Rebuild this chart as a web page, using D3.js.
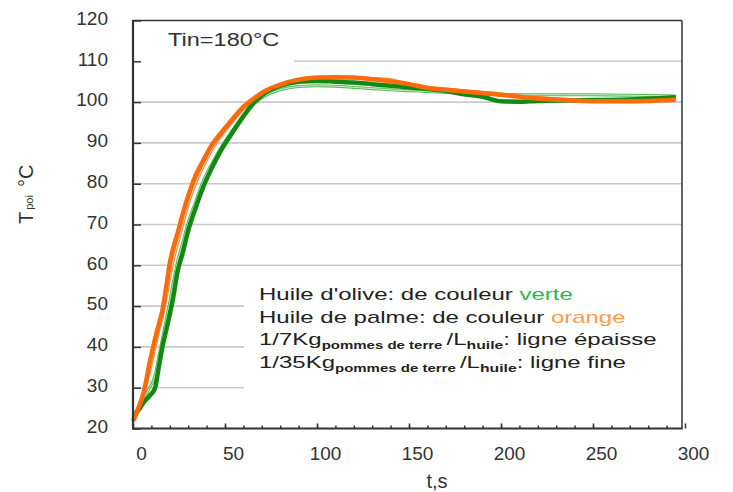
<!DOCTYPE html>
<html><head><meta charset="utf-8">
<script src="https://cdn.jsdelivr.net/npm/d3@7"></script>
<style>body{margin:0;background:#fff}svg{display:block}</style>
</head><body>
<svg id="c" width="733" height="492"></svg>
<script>
// ---- data (time in s, temperature in °C) ----
const timeS = [0,3,6,9,12,14,16,18,20,22,24,27,30,34,38,43,48,54,60,66,72,80,90,100,110,120,130,140,150,160,170,180,190,200,210,220,235,250,265,280,295];
const oliveThick = [23.3,24.5,26.5,28,30,35,40,44,48,52.5,58,63,68.5,74,79,84,88.3,92.5,96.5,100,102.3,104,105,105.2,105,104.8,104.4,104,103.6,103.2,102.7,101.9,101.3,100.2,100.1,100.3,100.4,100.5,100.6,100.8,101.2];
const oliveThin  = [23,25,27.5,30,33,37.5,42,46.5,51,56,60.5,65.5,70.5,75.5,80.5,85,89,93,96.8,99.7,101.6,103,103.8,104,103.9,103.6,103.3,103,102.8,102.6,102.4,102.2,102,101.9,101.8,101.8,101.8,101.8,101.7,101.6,101.5];
const palmThick  = [21.8,25,29.2,36,42,45.5,49,54.5,60.5,64.5,67.5,72.5,77,82,85.5,89.6,92.5,95.8,98.8,101,102.8,104.3,105.5,106,106.1,106,105.6,105.1,104.4,103.5,103,102.6,102.2,101.8,101.3,100.9,100.5,100.2,100.2,100.3,100.6];
const palmThin   = [22.5,25.5,29,34,40,44,47.5,52,57,61.5,65,70,75,80,84,88.5,91.8,95.2,98.3,100.7,102.6,104.2,105.3,105.8,105.9,105.9,105.8,105.5,104.3,103.6,103.2,102.8,102.4,102,101.5,101.1,100.7,100.5,100.5,100.6,100.8];
const xTicksMajor = [0,50,100,150,200,250,300];
const xTicksMinor = d3.range(10,300,10);
const yTicks = [20,30,40,50,60,70,80,90,100,110,120];
const gridValues = [30,40,50,60,70,80,90,100,110];
const titleText = "Tin=180°C";
const xLabel = "t,s";

// ---- layout ----
const svg = d3.select("#c");
const L = 133, R = 682, T = 20.5, B = 428.5;
const x = d3.scaleLinear().domain([0,300]).range([L, 685]);
const y = d3.scaleLinear().domain([20,120]).range([B, T]);
const FONT = "'Liberation Sans', Arial, sans-serif";

svg.append("rect").attr("width",733).attr("height",492).attr("fill","#fff");

// grid
svg.append("g").selectAll("line").data(gridValues).join("line")
  .attr("x1",L).attr("x2",R).attr("y1",d=>y(d)).attr("y2",d=>y(d))
  .attr("stroke","#c9c9c9").attr("stroke-width",1.6);

// boxes hiding grid (title + legend backgrounds)
svg.append("rect").attr("x",L+1).attr("y",T+1).attr("width",160).attr("height",48).attr("fill","#fff");
svg.append("rect").attr("x",244).attr("y",272).attr("width",R-244-1).attr("height",128).attr("fill","#fff");

// series
const line = d3.line().x((d,i)=>x(timeS[i])).y(d=>y(d)).curve(d3.curveMonotoneX);
function thin(vals, col, core){
  svg.append("path").datum(vals).attr("d",line).attr("fill","none")
    .attr("stroke",col).attr("stroke-width",3).attr("stroke-linejoin","round");
  svg.append("path").datum(vals).attr("d",line).attr("fill","none")
    .attr("stroke",core).attr("stroke-width",0.9).attr("stroke-linejoin","round");
}
function thick(vals, col){
  svg.append("path").datum(vals).attr("d",line).attr("fill","none")
    .attr("stroke",col).attr("stroke-width",4.5).attr("stroke-linejoin","round");
}
thin(oliveThin, "#5cb85c", "#d8f0d8");
thin(palmThin, "#ff8a3a", "#ffe0c8");
thick(oliveThick, "#128a12");
thick(palmThick, "#ff6a0a");

// frame
svg.append("line").attr("x1",L).attr("x2",R).attr("y1",T).attr("y2",T).attr("stroke","#333").attr("stroke-width",1.5);
svg.append("line").attr("x1",R).attr("x2",R).attr("y1",T).attr("y2",B).attr("stroke","#333").attr("stroke-width",1.5);

// axes
const gx = svg.append("g").attr("transform",`translate(0,${B})`);
gx.call(d3.axisBottom(x).tickValues(xTicksMinor).tickSize(-3).tickFormat(""));
const gx2 = svg.append("g").attr("transform",`translate(0,${B})`);
gx2.call(d3.axisBottom(x).tickValues(xTicksMajor).tickSize(-5).tickPadding(18).tickFormat(d3.format("d")));
[gx,gx2].forEach(g=>{g.select(".domain").remove(); g.selectAll("line").attr("stroke","#333").attr("stroke-width",1.5);});
gx2.selectAll("text").attr("font-family",FONT).attr("font-size",19).attr("fill","#333").attr("dx",8);

const gy = svg.append("g").attr("transform",`translate(${L},0)`);
gy.call(d3.axisLeft(y).tickValues(yTicks).tickSize(-8).tickPadding(25).tickFormat(d3.format("d")));
gy.select(".domain").remove();
gy.selectAll("line").attr("stroke","#333").attr("stroke-width",1.5);
gy.selectAll("text").attr("font-family",FONT).attr("font-size",19).attr("fill","#333").attr("dy","0.2em");

svg.append("line").attr("x1",L).attr("x2",L).attr("y1",T-0.5).attr("y2",B+1).attr("stroke","#333").attr("stroke-width",2.2);
svg.append("line").attr("x1",L-1).attr("x2",R+0.7).attr("y1",B).attr("y2",B).attr("stroke","#333").attr("stroke-width",2.2);

// title inside plot
svg.append("text").attr("transform","translate(168,46) scale(1.24,1)")
  .attr("font-family",FONT).attr("font-size",19).attr("fill","#333").text(titleText);

// axis labels
svg.append("text").attr("x",437).attr("y",488).attr("text-anchor","middle")
  .attr("font-family",FONT).attr("font-size",20).attr("fill","#333").text(xLabel);
const yl = svg.append("text").attr("transform","translate(33,224) rotate(-90)")
  .attr("font-family",FONT).attr("font-size",20).attr("fill","#333");
yl.append("tspan").text("T");
yl.append("tspan").attr("font-size",11).attr("dx",2).text("poi");
yl.append("tspan").attr("dx",8).text("°C");

// legend
const lg = svg.append("g").attr("transform","translate(259,0) scale(1.5,1)")
  .attr("font-family",FONT).attr("font-size",16).attr("fill","#222");
const l1 = lg.append("text").attr("y",300);
l1.append("tspan").text("Huile d'olive: de couleur ");
l1.append("tspan").attr("fill","#33b34f").text("verte");
const l2 = lg.append("text").attr("y",323);
l2.append("tspan").text("Huile de palme: de couleur ");
l2.append("tspan").attr("fill","#ff9a4f").text("orange");
function subLine(yy, frac, tail){
  const t = lg.append("text").attr("y",yy);
  t.append("tspan").text(frac+"Kg");
  t.append("tspan").attr("font-size",10).attr("font-weight","bold").attr("dy",4).text("pommes de terre ");
  t.append("tspan").attr("dy",-4).text("/L");
  t.append("tspan").attr("font-size",10.5).attr("font-weight","bold").attr("dy",4).text("huile");
  t.append("tspan").attr("dy",-4).text(": "+tail);
}
subLine(345, "1/7", "ligne épaisse");
subLine(368, "1/35", "ligne fine");
</script>
</body></html>
